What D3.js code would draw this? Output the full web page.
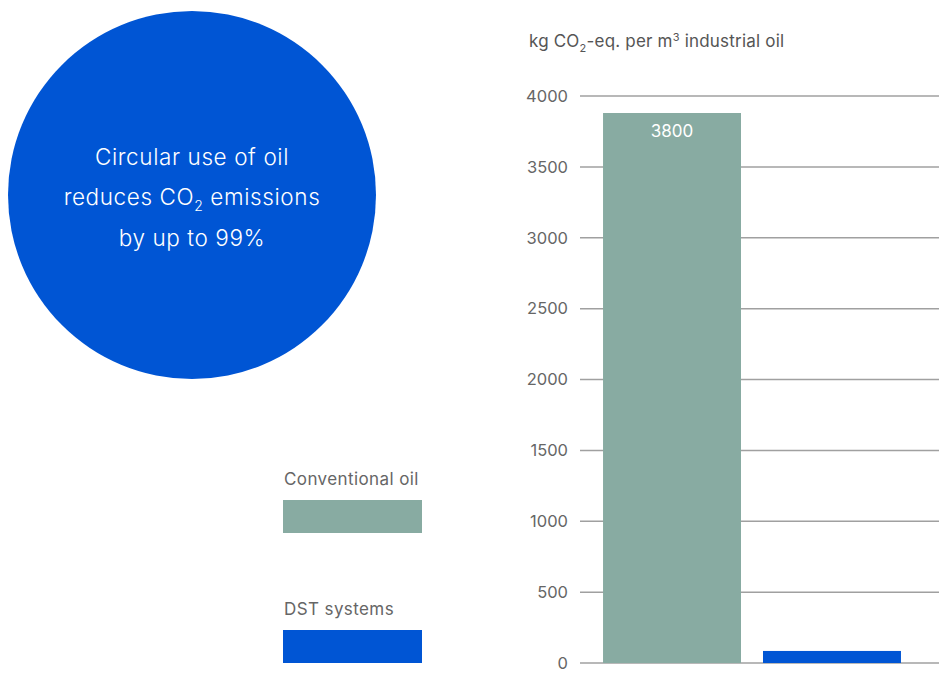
<!DOCTYPE html>
<html><head><meta charset="utf-8">
<script src="https://cdn.jsdelivr.net/npm/d3@7"></script>
<style>body{margin:0;background:#fff}svg{display:block}text{font-family:Inter,"Noto Sans",sans-serif}</style>
</head><body>
<script>
const categories = ["Conventional oil", "DST systems"];
const values = [3880, 85];
const barLabels = ["3800", ""];
const colors = ["#88aba2", "#0055d4"];
const yTicks = [0, 500, 1000, 1500, 2000, 2500, 3000, 3500, 4000];

const W = 939, H = 673;
const svg = d3.select("body").append("svg").attr("width", W).attr("height", H);

// circle
const g0 = svg.append("g");
g0.append("circle").attr("cx", 192).attr("cy", 195).attr("r", 184).attr("fill", "#0055d4");
const lines = g0.append("text").attr("fill", "#fff").attr("font-size", 22.5).attr("font-weight", 300)
  .attr("letter-spacing", 0.6).attr("text-anchor", "middle");
lines.append("tspan").attr("x", 192).attr("y", 165).text("Circular use of oil");
const l2 = lines.append("tspan").attr("x", 192).attr("y", 205);
l2.append("tspan").text("reduces CO");
l2.append("tspan").attr("font-size", 14).attr("dy", 6).text("2");
l2.append("tspan").attr("dy", -6).text(" emissions");
lines.append("tspan").attr("x", 192).attr("y", 246).text("by up to 99%");

// chart
const x = d3.scaleBand().domain(categories).range([580, 924]).paddingInner(0.1375).paddingOuter(0.144);
const y = d3.scaleLinear().domain([0, 4000]).range([663, 96]);

const axis = d3.axisLeft(y).tickValues(yTicks).tickFormat(d3.format("d")).tickSize(0).tickPadding(12);
const ag = svg.append("g").attr("transform", "translate(580,0)").call(axis);
ag.select(".domain").remove();
ag.selectAll("text").attr("fill", "#666").attr("font-size", 16.5).attr("font-family", "Inter,'Noto Sans',sans-serif");

svg.append("g").selectAll("line").data(yTicks).join("line")
  .attr("x1", 580).attr("x2", W).attr("y1", d => y(d)).attr("y2", d => y(d))
  .attr("stroke", "#a0a0a0").attr("stroke-width", 1.5);

svg.append("g").selectAll("rect").data(values).join("rect")
  .attr("x", (d, i) => x(categories[i])).attr("width", x.bandwidth())
  .attr("y", d => y(d)).attr("height", d => y(0) - y(d))
  .attr("fill", (d, i) => colors[i]);

svg.append("g").selectAll("text").data(values).join("text")
  .attr("x", (d, i) => x(categories[i]) + x.bandwidth() / 2)
  .attr("y", d => y(d) + 24).attr("text-anchor", "middle")
  .attr("fill", "#fff").attr("font-size", 17)
  .text((d, i) => barLabels[i]);

// axis title
const t = svg.append("text").attr("x", 529).attr("y", 47).attr("fill", "#555").attr("font-size", 17).attr("letter-spacing", 0.2);
t.append("tspan").text("kg CO");
t.append("tspan").attr("font-size", 11).attr("dy", 5).text("2");
t.append("tspan").attr("dy", -5).text("-eq. per m");
t.append("tspan").attr("font-size", 11).attr("dy", -6).text("3");
t.append("tspan").attr("dy", 6).text(" industrial oil");

// legend
const legY = [485, 615];
const lg = svg.append("g");
categories.forEach((c, i) => {
  lg.append("text").attr("x", 284).attr("y", legY[i]).attr("fill", "#666").attr("font-size", 17)
    .attr("letter-spacing", 0.4).text(c);
  lg.append("rect").attr("x", 283).attr("y", legY[i] + 15).attr("width", 139).attr("height", 33).attr("fill", colors[i]);
});
</script>
</body></html>
